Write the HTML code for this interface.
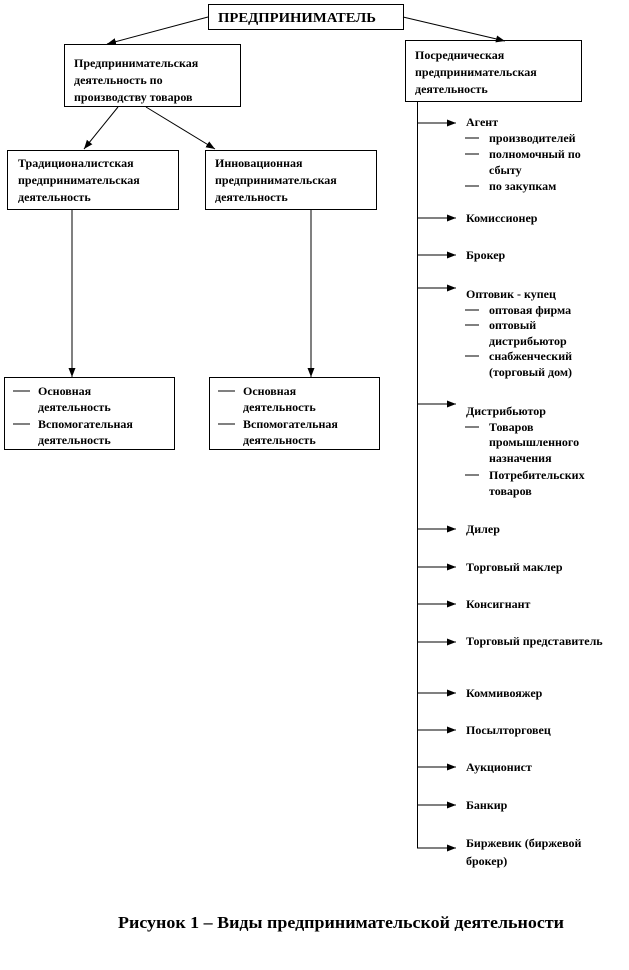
<!DOCTYPE html>
<html><head><meta charset="utf-8"><style>
html,body{margin:0;padding:0;background:#fff;}
svg{display:block;}
text{font-family:"Liberation Serif","DejaVu Serif",serif;font-weight:bold;font-size:12px;fill:#000;}
</style></head><body>
<svg width="629" height="970" viewBox="0 0 629 970" xmlns="http://www.w3.org/2000/svg">
<defs>
<marker id="a" markerWidth="10" markerHeight="10" refX="9" refY="4.5" orient="auto" markerUnits="userSpaceOnUse">
<path d="M0,1 L9,4.5 L0,8 z" fill="#000"/></marker>
</defs>
<g fill="none" stroke="#000" stroke-width="1">
<rect x="208.5" y="4.5" width="195" height="25"/>
<rect x="64.5" y="44.5" width="176" height="62"/>
<rect x="405.5" y="40.5" width="176" height="61"/>
<rect x="7.5" y="150.5" width="171" height="59"/>
<rect x="205.5" y="150.5" width="171" height="59"/>
<rect x="4.5" y="377.5" width="170" height="72"/>
<rect x="209.5" y="377.5" width="170" height="72"/>
<line x1="208" y1="17" x2="107" y2="44" marker-end="url(#a)"/>
<line x1="403" y1="17" x2="505" y2="41" marker-end="url(#a)"/>
<line x1="118" y1="107" x2="84" y2="149" marker-end="url(#a)"/>
<line x1="146" y1="107" x2="215" y2="149" marker-end="url(#a)"/>
<line x1="72" y1="210" x2="72" y2="377" marker-end="url(#a)"/>
<line x1="311" y1="210" x2="311" y2="377" marker-end="url(#a)"/>
<line x1="417.5" y1="102" x2="417.5" y2="848"/>
<g marker-end="url(#a)">
<line x1="417" y1="123" x2="456" y2="123"/>
<line x1="417" y1="218" x2="456" y2="218"/>
<line x1="417" y1="255" x2="456" y2="255"/>
<line x1="417" y1="288" x2="456" y2="288"/>
<line x1="417" y1="404" x2="456" y2="404"/>
<line x1="417" y1="529" x2="456" y2="529"/>
<line x1="417" y1="567" x2="456" y2="567"/>
<line x1="417" y1="604" x2="456" y2="604"/>
<line x1="417" y1="642" x2="456" y2="642"/>
<line x1="417" y1="693" x2="456" y2="693"/>
<line x1="417" y1="730" x2="456" y2="730"/>
<line x1="417" y1="767" x2="456" y2="767"/>
<line x1="417" y1="805" x2="456" y2="805"/>
<line x1="417" y1="848" x2="456" y2="848"/>
</g>
<g>
<line x1="465" y1="138" x2="479" y2="138"/>
<line x1="465" y1="154" x2="479" y2="154"/>
<line x1="465" y1="186" x2="479" y2="186"/>
<line x1="465" y1="310" x2="479" y2="310"/>
<line x1="465" y1="325" x2="479" y2="325"/>
<line x1="465" y1="356" x2="479" y2="356"/>
<line x1="465" y1="427" x2="479" y2="427"/>
<line x1="465" y1="475" x2="479" y2="475"/>
<line x1="13" y1="391" x2="30" y2="391"/>
<line x1="13" y1="424" x2="30" y2="424"/>
<line x1="218" y1="391" x2="235" y2="391"/>
<line x1="218" y1="424" x2="235" y2="424"/>
</g>
</g>
<text x="218" y="22" style="font-size:14px" textLength="158" lengthAdjust="spacingAndGlyphs">ПРЕДПРИНИМАТЕЛЬ</text>
<text x="74" y="67">Предпринимательская</text>
<text x="74" y="84">деятельность  по</text>
<text x="74" y="101">производству  товаров</text>
<text x="415" y="59">Посредническая</text>
<text x="415" y="76">предпринимательская</text>
<text x="415" y="93">деятельность</text>
<text x="18" y="167">Традиционалистская</text>
<text x="18" y="184">предпринимательская</text>
<text x="18" y="201">деятельность</text>
<text x="215" y="167">Инновационная</text>
<text x="215" y="184">предпринимательская</text>
<text x="215" y="201">деятельность</text>
<text x="38" y="395">Основная</text>
<text x="38" y="411">деятельность</text>
<text x="38" y="428">Вспомогательная</text>
<text x="38" y="444">деятельность</text>
<text x="243" y="395">Основная</text>
<text x="243" y="411">деятельность</text>
<text x="243" y="428">Вспомогательная</text>
<text x="243" y="444">деятельность</text>
<text x="466" y="126">Агент</text>
<text x="489" y="142">производителей</text>
<text x="489" y="158">полномочный по</text>
<text x="489" y="174">сбыту</text>
<text x="489" y="190">по закупкам</text>
<text x="466" y="222">Комиссионер</text>
<text x="466" y="259">Брокер</text>
<text x="466" y="298">Оптовик  - купец</text>
<text x="489" y="314">оптовая фирма</text>
<text x="489" y="329">оптовый</text>
<text x="489" y="345">дистрибьютор</text>
<text x="489" y="360">снабженческий</text>
<text x="489" y="376">(торговый дом)</text>
<text x="466" y="415">Дистрибьютор</text>
<text x="489" y="431">Товаров</text>
<text x="489" y="446">промышленного</text>
<text x="489" y="462">назначения</text>
<text x="489" y="479">Потребительских</text>
<text x="489" y="495">товаров</text>
<text x="466" y="533">Дилер</text>
<text x="466" y="571">Торговый маклер</text>
<text x="466" y="608">Консигнант</text>
<text x="466" y="645">Торговый представитель</text>
<text x="466" y="697">Коммивояжер</text>
<text x="466" y="734">Посылторговец</text>
<text x="466" y="771">Аукционист</text>
<text x="466" y="809">Банкир</text>
<text x="466" y="847">Биржевик (биржевой</text>
<text x="466" y="865">брокер)</text>
<text x="118" y="928" style="font-size:17px" textLength="446" lengthAdjust="spacingAndGlyphs">Рисунок 1 – Виды предпринимательской деятельности</text>
</svg>
</body></html>
